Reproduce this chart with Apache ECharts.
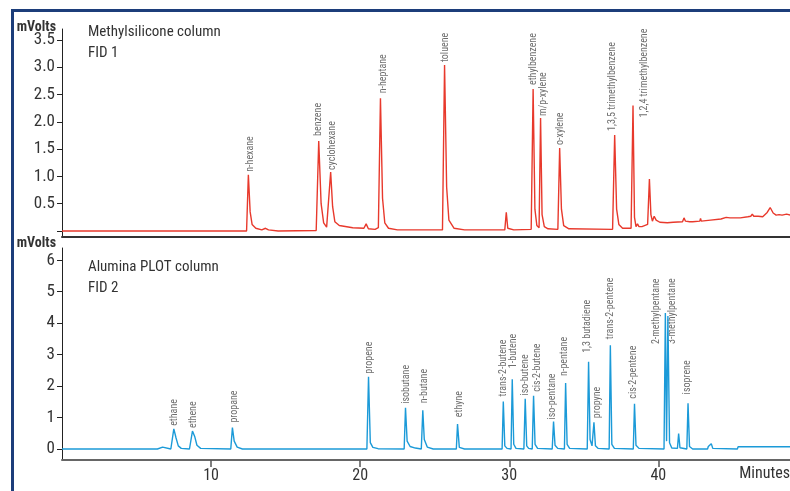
<!DOCTYPE html>
<html>
<head>
<meta charset="utf-8">
<script src="https://cdn.jsdelivr.net/npm/echarts@6/dist/echarts.min.js"></script>
<style>
html,body{margin:0;padding:0;background:#fff;}
#chart{width:790px;height:491px;}
</style>
</head>
<body>
<div id="chart"></div>
<script>
// ---------- DATA ----------
// FID 1 (Methylsilicone column) trace: [minutes, mVolts]
const fid1Trace = [
  [0, 0], [12.38, 0], [12.5, 1.03], [12.62, 0.35], [12.75, 0.12], [13.0, 0.05], [13.4, 0.02],
  [13.65, 0.05], [13.85, 0.02], [14.5, 0.0], [17.05, 0.01], [17.22, 1.65], [17.38, 0.5],
  [17.55, 0.15], [17.75, 0.07], [17.87, 0.08], [18.02, 1.08], [18.15, 0.45], [18.3, 0.17],
  [18.6, 0.1], [19.5, 0.06], [20.25, 0.05], [20.4, 0.13], [20.55, 0.04], [21.0, 0.03],
  [21.22, 0.06], [21.36, 2.43], [21.5, 0.6], [21.65, 0.15], [21.9, 0.05], [22.5, 0.02],
  [25.52, 0.02], [25.66, 3.04], [25.8, 0.8], [25.95, 0.2], [26.3, 0.05], [27.0, 0.02],
  [29.7, 0.02], [29.8, 0.34], [29.9, 0.05], [30.3, 0.02], [31.47, 0.03], [31.6, 2.6],
  [31.72, 0.4], [31.85, 0.1], [32.0, 0.06], [32.1, 2.07], [32.2, 0.3], [32.35, 0.08],
  [32.6, 0.04], [33.26, 0.03], [33.38, 1.52], [33.5, 0.4], [33.65, 0.1], [34.0, 0.04],
  [36.93, 0.03], [37.07, 1.76], [37.2, 0.4], [37.35, 0.12], [37.6, 0.05], [38.17, 0.05],
  [38.3, 2.3], [38.4, 0.25], [38.5, 0.08], [38.6, 0.13], [38.7, 0.08], [38.8, 0.11],
  [38.9, 0.08], [39.0, 0.1], [39.28, 0.12], [39.4, 0.95], [39.5, 0.3], [39.6, 0.18],
  [39.72, 0.27], [39.85, 0.2], [40.1, 0.16], [40.6, 0.15], [41.0, 0.16], [41.62, 0.17],
  [41.72, 0.24], [41.82, 0.18], [41.95, 0.2], [42.1, 0.17], [42.3, 0.17], [42.78, 0.18],
  [42.83, 0.23], [42.88, 0.18], [43.5, 0.2], [44.2, 0.22], [44.55, 0.25], [44.8, 0.24],
  [45.5, 0.24], [46.0, 0.26], [46.2, 0.27], [46.3, 0.31], [46.4, 0.27], [46.5, 0.3],
  [46.7, 0.27], [47.0, 0.26], [47.3, 0.34], [47.5, 0.43], [47.7, 0.33], [47.9, 0.29],
  [48.1, 0.3], [48.3, 0.29], [48.6, 0.31], [48.9, 0.29]
];

// FID 2 (Alumina PLOT column) trace: [minutes, mVolts]
const fid2Trace = [
  [0, 0], [6.4, 0], [6.5, 0.06], [6.75, 0.06], [6.85, 0], [7.3, 0], [7.5, 0.64], [7.65, 0.35],
  [7.8, 0.1], [8.0, 0.02], [8.55, 0], [8.75, 0.57], [8.9, 0.4], [9.05, 0.12], [9.3, 0.02],
  [11.32, 0], [11.43, 0.68], [11.55, 0.25], [11.75, 0.06], [12.1, 0], [20.45, 0], [20.56, 2.3],
  [20.68, 0.2], [20.85, 0.05], [21.2, 0.01], [22.95, 0], [23.04, 1.31], [23.15, 0.25],
  [23.35, 0.08], [23.7, 0.03], [24.1, 0], [24.2, 1.23], [24.3, 0.3], [24.5, 0.06], [24.9, 0],
  [26.45, 0], [26.53, 0.79], [26.65, 0.05], [27.0, 0], [29.52, 0], [29.6, 1.51], [29.7, 0.1],
  [29.85, 0.02], [30.12, 0], [30.2, 2.22], [30.3, 0.15], [30.45, 0.02], [30.98, 0],
  [31.07, 1.6], [31.17, 0.1], [31.3, 0.02], [31.54, 0], [31.63, 1.69], [31.73, 0.15],
  [31.9, 0.02], [32.88, 0], [32.97, 0.87], [33.07, 0.12], [33.25, 0.02], [33.7, 0],
  [33.78, 2.1], [33.88, 0.15], [34.05, 0.02], [35.23, 0], [35.32, 2.77], [35.42, 0.3],
  [35.55, 0.1], [35.68, 0.85], [35.78, 0.1], [35.95, 0.02], [36.7, 0], [36.78, 3.3],
  [36.88, 0.15], [37.05, 0.02], [38.32, 0], [38.4, 1.44], [38.5, 0.12], [38.7, 0.02],
  [40.38, 0], [40.47, 4.32], [40.55, 0.25], [40.64, 4.23], [40.75, 0.2], [40.9, 0.03],
  [41.28, 0.02], [41.36, 0.49], [41.45, 0.04], [41.91, 0], [41.99, 1.45], [42.09, 0.08],
  [42.3, 0], [43.3, 0], [43.35, 0.08], [43.45, 0.02], [43.55, 0.17], [43.65, 0.02],
  [45.3, 0], [45.35, 0.07], [48.9, 0.07]
];

// Peak labels
const fid1PeakNames = ['n-hexane', 'benzene', 'cyclohexane', 'n-heptane', 'toluene', 'ethylbenzene',
  'm/p-xylene', 'o-xylene', '1,3,5 trimethylbenzene', '1,2,4 trimethylbenzene'];
const fid1PeakTimes = [12.5, 17.22, 18.02, 21.36, 25.66, 31.6, 32.1, 33.38, 37.07, 38.3];
const fid1PeakHeights = [1.03, 1.65, 1.08, 2.43, 3.04, 2.6, 2.07, 1.52, 1.76, 2.3];

const fid2PeakNames = ['ethane', 'ethene', 'propane', 'propene', 'isobutane', 'n-butane', 'ethyne',
  'trans-2-butene', '1-butene', 'iso-butene', 'cis-2-butene', 'iso-pentane', 'n-pentane',
  '1,3 butadiene', 'propyne', 'trans-2-pentene', 'cis-2-pentene', '2-methylpentane',
  '3-methylpentane', 'isoprene'];
const fid2PeakTimes = [7.5, 8.75, 11.43, 20.56, 23.04, 24.2, 26.53, 29.6, 30.2, 31.07, 31.63, 32.97,
  33.78, 35.32, 35.68, 36.78, 38.4, 40.47, 40.64, 41.99];
const fid2PeakHeights = [0.64, 0.57, 0.68, 2.3, 1.31, 1.23, 0.79, 1.51, 2.22, 1.6, 1.69, 0.87, 2.1,
  2.77, 0.85, 3.3, 1.44, 4.32, 4.23, 1.45];

const fid1TickValues = [0, 0.5, 1.0, 1.5, 2.0, 2.5, 3.0, 3.5];
const fid1TickLabels = [0.5, 1.0, 1.5, 2.0, 2.5, 3.0, 3.5];
const fid2TickValues = [0, 1, 2, 3, 4, 5, 6];
const timeTickValues = [10, 20, 30, 40];

// ---------- STYLE (pixel offsets of labels: [right, up]) ----------
const fid1LabelShift = [[2,3],[0,5],[2,2],[3,5],[1,3],[0,4],[3,2],[1,3],[-2,4],[11,-12]];
const fid2LabelShift = [[1,3],[1,3],[2,5],[1,3],[1,4],[2,7],[2,7],[0,5],[1,11],[0,3],[4,4],[-1,2],
  [-1,7],[-1,9],[4,4],[0,6],[-1,5],[-9,-31],[5,-28],[-1,9]];

const FONT = "'Roboto Condensed', 'Liberation Sans', sans-serif";
const TXT = '#333';

function labelData(names, times, heights, shifts) {
  return names.map((n, i) => ({
    name: n,
    value: [times[i], heights[i]],
    label: { offset: [shifts[i][1], shifts[i][0]] }
  }));
}

const chart = echarts.init(document.getElementById('chart'), null, {renderer: 'canvas'});
const peakLabel = {show: true, formatter: '{b}', position: 'inside', rotate: 90, align: 'left',
  verticalAlign: 'middle', fontSize: 10, fontFamily: FONT, color: '#4a4a4a'};
const option = {
  animation: false,
  backgroundColor: '#fff',
  grid: [
    {left: 62, right: 0, top: 29, height: 208},
    {left: 62, right: 0, top: 248, height: 212}
  ],
  xAxis: [
    {
      gridIndex: 0, type: 'value', min: 0, max: 48.83,
      axisLine: {onZero: false, lineStyle: {color: '#333', width: 2}},
      axisTick: {show: false}, axisLabel: {show: false}, splitLine: {show: false}
    },
    {
      gridIndex: 1, type: 'value', min: 0, max: 48.83,
      axisLine: {onZero: false, lineStyle: {color: '#666', width: 2}},
      axisTick: {show: true, inside: false, length: 7, customValues: timeTickValues,
        lineStyle: {color: '#555', width: 1.5}},
      axisLabel: {show: true, customValues: timeTickValues, margin: 8,
        fontSize: 16, fontFamily: FONT, color: TXT},
      splitLine: {show: false}
    }
  ],
  yAxis: [
    {
      gridIndex: 0, type: 'value', min: -0.11, max: 3.70,
      axisLine: {show: true, lineStyle: {color: '#222', width: 1}},
      axisTick: {show: true, length: 5, customValues: fid1TickValues, lineStyle: {color: '#222'}},
      axisLabel: {customValues: fid1TickLabels, formatter: v => Number(v).toFixed(1),
        margin: 7, fontSize: 17, fontFamily: FONT, color: TXT},
      splitLine: {show: false}
    },
    {
      gridIndex: 1, type: 'value', min: -0.35, max: 6.39,
      axisLine: {show: true, lineStyle: {color: '#222', width: 1}},
      axisTick: {show: true, length: 5, customValues: fid2TickValues, lineStyle: {color: '#222'}},
      axisLabel: {customValues: fid2TickValues, margin: 7, fontSize: 17, fontFamily: FONT, color: TXT},
      splitLine: {show: false}
    }
  ],
  graphic: [
    {type: 'rect', shape: {x: 11, y: 9, width: 779, height: 3}, style: {fill: '#1c3d7a'}, silent: true},
    {type: 'rect', shape: {x: 11, y: 9, width: 3, height: 482}, style: {fill: '#1c3d7a'}, silent: true},
    {type: 'text', x: 56, y: 27, silent: true, style: {text: 'mVolts', font: 'bold 14px ' + FONT,
      fill: TXT, align: 'right', verticalAlign: 'middle'}},
    {type: 'text', x: 56, y: 243, silent: true, style: {text: 'mVolts', font: 'bold 14px ' + FONT,
      fill: TXT, align: 'right', verticalAlign: 'middle'}},
    {type: 'text', left: 88, top: 22, style: {text: 'Methylsilicone column\nFID 1', font: '15px ' + FONT,
      fill: TXT, lineHeight: 20.5}},
    {type: 'text', left: 88, top: 257, style: {text: 'Alumina PLOT column\nFID 2', font: '15px ' + FONT,
      fill: TXT, lineHeight: 20.5}},
    {type: 'text', right: 0, top: 466, style: {text: 'Minutes', font: '16px ' + FONT, fill: TXT}}
  ],
  series: [
    {
      type: 'line', xAxisIndex: 0, yAxisIndex: 0, data: fid1Trace, symbol: 'none',
      lineStyle: {color: '#e8392c', width: 1.4}, silent: true
    },
    {
      type: 'line', xAxisIndex: 1, yAxisIndex: 1, data: fid2Trace, symbol: 'none',
      lineStyle: {color: '#1b9ad8', width: 1.4}, silent: true
    },
    {
      type: 'scatter', xAxisIndex: 0, yAxisIndex: 0, symbolSize: 0, silent: true,
      data: labelData(fid1PeakNames, fid1PeakTimes, fid1PeakHeights, fid1LabelShift),
      label: peakLabel
    },
    {
      type: 'scatter', xAxisIndex: 1, yAxisIndex: 1, symbolSize: 0, silent: true,
      data: labelData(fid2PeakNames, fid2PeakTimes, fid2PeakHeights, fid2LabelShift),
      label: peakLabel
    }
  ]
};
chart.setOption(option);
</script>
</body>
</html>
